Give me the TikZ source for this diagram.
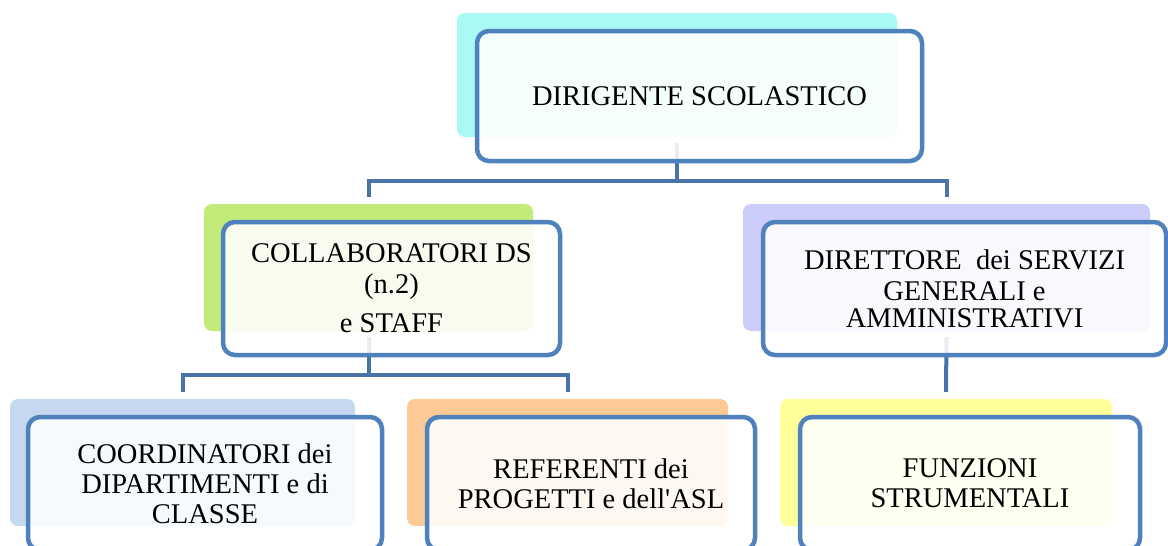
\documentclass[tikz,border=0pt]{standalone}
\usepackage{fontspec}
\setmainfont{Liberation Serif}
\definecolor{outl}{HTML}{4F81BD}
\definecolor{linkc}{HTML}{4A73A8}
\definecolor{cyanbg}{HTML}{A9F9F4}
\definecolor{greenbg}{HTML}{C2EB7A}
\definecolor{purplebg}{HTML}{CCCCFA}
\definecolor{bluebg}{HTML}{C5D8EF}
\definecolor{orangebg}{HTML}{FDC994}
\definecolor{yellowbg}{HTML}{FFFF99}
\begin{document}
\begin{tikzpicture}[x=1pt,y=-1pt,
  bg/.style={draw=none, rounded corners=8pt, inner sep=0pt, fill=#1},
  card/.style={draw=outl, line width=4.5pt, rounded corners=12pt, fill=white,
    fill opacity=0.88, text opacity=1, inner sep=0pt, align=center,
    font=\fontsize{28.5}{30}\selectfont},
  link/.style={draw=linkc, line width=4pt}]
\clip (0,0) rectangle (1168,546);
\fill[white] (0,0) rectangle (1168,546);
% coloured back plates
\node[bg=cyanbg,   minimum width=440pt, minimum height=124pt] (dsbg)  at (677,75) {};
\node[bg=greenbg,  minimum width=329pt, minimum height=127pt] (colbg) at (368.5,267.5) {};
\node[bg=purplebg, minimum width=407pt, minimum height=127pt] (dirbg) at (946.5,267.5) {};
\node[bg=bluebg,   minimum width=345pt, minimum height=127pt] (coobg) at (182.5,462.5) {};
\node[bg=orangebg, minimum width=321pt, minimum height=127pt] (refbg) at (567.5,462.5) {};
\node[bg=yellowbg, minimum width=332pt, minimum height=127pt] (funbg) at (946,462.5) {};
% bus coordinates
\coordinate (bus1) at (0,181);
\coordinate (bus2) at (0,375);
% connectors
\draw[link] ([yshift=-6pt]dsbg.south) -- (dsbg.south |- bus1);
\draw[link] ([yshift=7pt]colbg.north) -- (colbg.north |- bus1) -- (dirbg.north |- bus1) -- ([yshift=7pt]dirbg.north);
\draw[link] ([yshift=-6pt]colbg.south) -- (colbg.south |- bus2);
\draw[link] ([yshift=7pt]coobg.north) -- (coobg.north |- bus2) -- (refbg.north |- bus2) -- ([yshift=7pt]refbg.north);
\draw[link] ([yshift=-6pt]dirbg.south) -- ([yshift=7pt]funbg.north);
% cards
\node[card, minimum width=445pt, minimum height=130pt] (ds) at (699.5,96) {DIRIGENTE SCOLASTICO};
\node[card, minimum width=337pt, minimum height=133pt] (col) at (391.5,288.5) {COLLABORATORI DS\\[1pt](n.2)\\[9pt]e STAFF};
\node[card, minimum width=403pt, minimum height=133pt] (dir) at (964.5,288.5) {DIRETTORE~ dei SERVIZI\\[1pt]GENERALI e\\[-3pt]AMMINISTRATIVI};
\node[card, minimum width=354pt, minimum height=133pt] (coo) at (205,483.5) {COORDINATORI dei\\DIPARTIMENTI e di\\CLASSE};
\node[card, minimum width=328pt, minimum height=133pt] (ref) at (591,483.5) {REFERENTI dei\\PROGETTI e dell\textquotesingle ASL};
\node[card, minimum width=340pt, minimum height=133pt] (fun) at (970,483.5) {FUNZIONI\\STRUMENTALI};
\end{tikzpicture}
\end{document}
